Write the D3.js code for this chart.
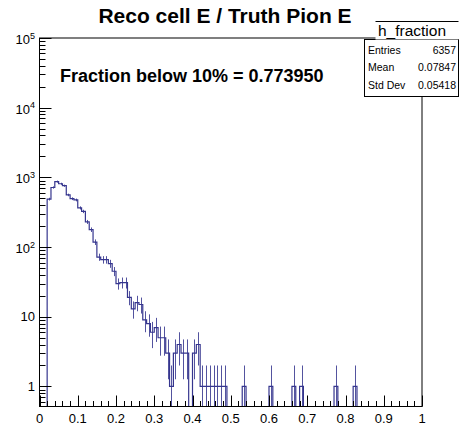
<!DOCTYPE html>
<html>
<body>
    <style>
        body, html {
            margin: 0;
            padding: 0;
            background: #fff;
        }
        svg {
            position: absolute;
            top: 0;
            left: 0;
        }
        text {
            font-family: "Liberation Sans", Arial, Helvetica, sans-serif;
        }
    </style>

    <svg width="459" height="425"></svg>

    <script src="https://d3js.org/d3.v7.min.js"></script>

    <script>
        // bin contents, 100 bins of width 0.01 from 0 to 1
        var binWidth = 0.01;
        var counts = [
            0, 0, 488, 716, 870, 810, 760, 560, 495, 475,
            365, 325, 230, 178, 118, 72, 66, 66, 58, 45,
            30, 31, 31, 19, 13, 16, 15, 9, 8, 6,
            7, 5, 5, 3, 1, 3, 4, 3, 3, 0,
            3, 4, 1, 1, 1, 1, 1, 1, 1, 0,
            0, 0, 0, 1, 0, 0, 0, 0, 0, 0,
            1, 0, 0, 0, 0, 0, 1, 0, 1, 0,
            0, 0, 0, 0, 0, 0, 0, 1, 0, 0,
            0, 0, 1, 0, 0, 0, 0, 0, 0, 0,
            0, 0, 0, 0, 0, 0, 0, 0, 0, 0
        ];

        var xTickLabels = ["0", "0.1", "0.2", "0.3", "0.4", "0.5", "0.6", "0.7", "0.8", "0.9", "1"];
        var yDecades = [1, 10, 100, 1000, 10000, 100000];

        var titleText = "Reco cell E / Truth Pion E";
        var noteText = "Fraction below 10% = 0.773950";
        var statsName = "h_fraction";
        var statsLabels = ["Entries", "Mean", "Std Dev"];
        var statsValues = ["6357", "0.07847", "0.05418"];

        var lineColor = "#35358e";

        var frameL = 39.5, frameR = 422, frameT = 38, frameB = 406.5;
        var yMin = 0.516;

        var svg = d3.select("svg");
        var x = d3.scaleLinear().domain([0, 1]).range([frameL, frameR]);
        var y = d3.scaleLog().domain([yMin, 1e5]).range([frameB, frameT]);

        function yv(v) {
            return v <= yMin ? frameB : y(v);
        }

        // clip for histogram
        svg.append("clipPath").attr("id", "frameclip")
            .append("rect")
            .attr("x", frameL).attr("y", frameT)
            .attr("width", frameR - frameL).attr("height", frameB - frameT);

        var plot = svg.append("g").attr("clip-path", "url(#frameclip)");

        // error bars
        counts.forEach(function(c, i) {
            if (c <= 0) return;
            var e = Math.sqrt(c);
            var cx = Math.round(x((i + 0.5) * binWidth)) + 0.5;
            plot.append("line")
                .attr("x1", cx).attr("x2", cx)
                .attr("y1", yv(c - e)).attr("y2", yv(c + e))
                .attr("stroke", lineColor)
                .attr("stroke-opacity", 0.85)
                .attr("stroke-width", 1);
        });

        // step histogram
        var pts = [[x(0), frameB]];
        counts.forEach(function(c, i) {
            var y0 = yv(c);
            pts.push([x(i * binWidth), y0]);
            pts.push([x((i + 1) * binWidth), y0]);
        });
        pts.push([x(1), frameB]);

        plot.append("path")
            .attr("d", d3.line()(pts))
            .attr("fill", "none")
            .attr("stroke", lineColor)
            .attr("stroke-width", 1.2);

        // frame
        svg.append("rect")
            .attr("x", frameL).attr("y", frameT)
            .attr("width", frameR - frameL).attr("height", frameB - frameT)
            .attr("fill", "none")
            .attr("stroke", "#000")
            .attr("stroke-width", 1);

        // x axis ticks
        var xt = svg.append("g");
        for (var k = 0; k <= 50; k++) {
            var xv = k * 0.02;
            var major = (k % 5 === 0);
            var px = Math.round(x(xv)) + 0.5;
            xt.append("line")
                .attr("x1", px).attr("x2", px)
                .attr("y1", frameB).attr("y2", frameB - (major ? 11 : 5.5))
                .attr("stroke", "#000");
        }
        xTickLabels.forEach(function(t, i) {
            xt.append("text")
                .attr("x", x(i / 10))
                .attr("y", 423)
                .attr("text-anchor", "middle")
                .attr("font-size", 13)
                .text(t);
        });

        // y axis ticks (log)
        var yt = svg.append("g");
        var minors = [];
        [0.1, 1, 10, 100, 1000, 10000].forEach(function(d) {
            for (var m = 2; m <= 9; m++) {
                var v = d * m;
                if (v >= yMin && v < 1e5) minors.push(v);
            }
        });
        minors.forEach(function(v) {
            var py = Math.round(y(v)) + 0.5;
            yt.append("line")
                .attr("x1", frameL).attr("x2", frameL + 6)
                .attr("y1", py).attr("y2", py)
                .attr("stroke", "#000");
        });
        yDecades.forEach(function(v) {
            var py = Math.round(y(v)) + 0.5;
            yt.append("line")
                .attr("x1", frameL).attr("x2", frameL + 12)
                .attr("y1", py).attr("y2", py)
                .attr("stroke", "#000");
            var exp = Math.round(Math.log10(v));
            if (exp <= 1) {
                yt.append("text")
                    .attr("x", 35)
                    .attr("y", y(v) + 4.5)
                    .attr("text-anchor", "end")
                    .attr("font-size", 13)
                    .text(exp === 0 ? "1" : "10");
            } else {
                var t = yt.append("text")
                    .attr("x", 35)
                    .attr("y", y(v) + 6)
                    .attr("text-anchor", "end")
                    .attr("font-size", 13);
                t.append("tspan").text("10");
                t.append("tspan")
                    .attr("dy", -5.5)
                    .attr("font-size", 9)
                    .text(exp);
            }
        });

        // title
        svg.append("text")
            .attr("x", 225)
            .attr("y", 23)
            .attr("text-anchor", "middle")
            .attr("font-size", 21)
            .attr("font-weight", "bold")
            .text(titleText);

        // fraction note
        svg.append("text")
            .attr("x", 60)
            .attr("y", 82)
            .attr("font-size", 18)
            .attr("font-weight", "bold")
            .text(noteText);

        // stats box
        var sx0 = 364.5, sx1 = 458.5, sTop = 21.5, sMid = 39.5, sBot = 96.5;
        svg.append("rect")
            .attr("x", sx0).attr("y", sMid)
            .attr("width", sx1 - sx0).attr("height", sBot - sMid)
            .attr("fill", "#fff")
            .attr("stroke", "#000");
        svg.append("rect")
            .attr("x", 375.5).attr("y", sTop)
            .attr("width", sx1 - 375.5).attr("height", sMid - sTop)
            .attr("fill", "#fff")
            .attr("stroke", "none");
        svg.append("line")
            .attr("x1", 375.5).attr("x2", sx1)
            .attr("y1", sTop).attr("y2", sTop)
            .attr("stroke", "#000");
        svg.append("text")
            .attr("x", 412)
            .attr("y", 36)
            .attr("text-anchor", "middle")
            .attr("font-size", 15.5)
            .text(statsName);

        var rowY = [53.5, 71, 88.5];
        statsLabels.forEach(function(lbl, i) {
            svg.append("text")
                .attr("x", 368)
                .attr("y", rowY[i])
                .attr("font-size", 10.5)
                .text(lbl);
            svg.append("text")
                .attr("x", 456)
                .attr("y", rowY[i])
                .attr("text-anchor", "end")
                .attr("font-size", 10.5)
                .text(statsValues[i]);
        });
    </script>
</body>
</html>
